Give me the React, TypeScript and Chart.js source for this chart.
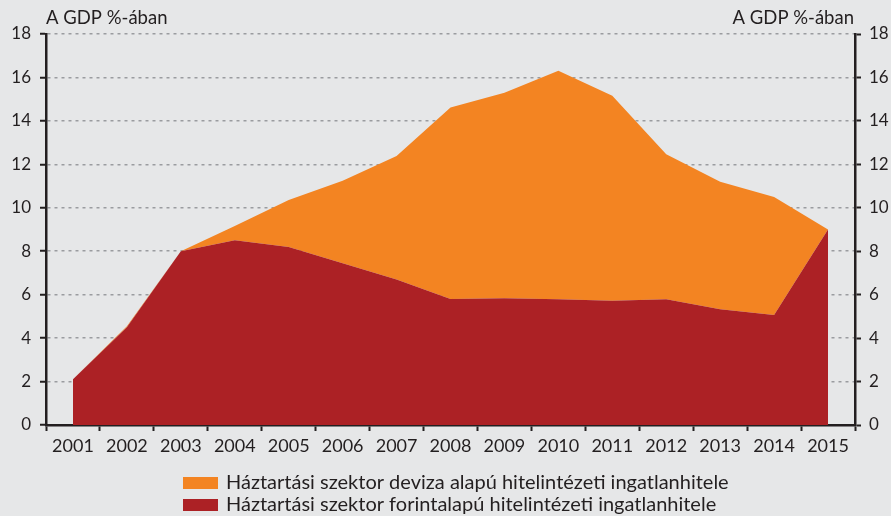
import React, { useEffect, useRef } from 'react';
import { Chart, registerables } from 'chart.js';

Chart.register(...registerables);

const years = ['2001', '2002', '2003', '2004', '2005', '2006', '2007', '2008', '2009', '2010', '2011', '2012', '2013', '2014', '2015'];
// Háztartási szektor forintalapú hitelintézeti ingatlanhitele (% of GDP)
const forintLoans = [2.1, 4.5, 8.0, 8.5, 8.2, 7.45, 6.7, 5.8, 5.83, 5.79, 5.72, 5.79, 5.33, 5.06, 9.0];
// Háztartási szektor deviza alapú hitelintézeti ingatlanhitele (% of GDP), stacked on top
const fxLoans = [0, 0.05, 0, 0.66, 2.16, 3.8, 5.68, 8.82, 9.47, 10.52, 9.44, 6.67, 5.87, 5.44, 0];
const yTicks = [0, 2, 4, 6, 8, 10, 12, 14, 16, 18];

const fxLabel = 'Háztartási szektor deviza alapú hitelintézeti ingatlanhitele';
const forintLabel = 'Háztartási szektor forintalapú hitelintézeti ingatlanhitele';
const axisTitle = 'A GDP %-ában';

const BG = '#e6e7e8';
const ORANGE = '#f38422';
const RED = '#ac2125';
const TEXT = '#231f20';
const GRID = '#9a9c9f';
const FONT = 'Lato';

const decorPlugin = {
  id: 'decor',
  beforeDraw(chart: any) {
    const { ctx, width, height } = chart;
    ctx.save();
    ctx.fillStyle = BG;
    ctx.fillRect(0, 0, width, height);
    ctx.restore();
  },
  afterDraw(chart: any) {
    const { ctx, chartArea } = chart;
    ctx.save();
    ctx.fillStyle = TEXT;
    ctx.font = `18.5px ${FONT}`;
    ctx.textBaseline = 'alphabetic';
    ctx.textAlign = 'left';
    ctx.fillText(axisTitle, chartArea.left, 24);
    ctx.textAlign = 'right';
    ctx.fillText(axisTitle, chartArea.right - 1, 24);

    const items = [1, 0].map((i) => chart.data.datasets[i]);
    ctx.font = `20px ${FONT}`;
    ctx.textAlign = 'left';
    ctx.textBaseline = 'middle';
    items.forEach((ds: any, i: number) => {
      const y = 477 + i * 22;
      ctx.fillStyle = ds.backgroundColor;
      ctx.fillRect(183, y, 35, 12);
      ctx.fillStyle = TEXT;
      ctx.fillText(ds.label, 226, y + 6);
    });
    ctx.restore();
  },
};

export default function App() {
  const ref = useRef<HTMLCanvasElement | null>(null);

  useEffect(() => {
    document.body.style.margin = '0';
    document.body.style.background = BG;
    const canvas = ref.current;
    if (!canvas) return;
    const chart = new Chart(canvas, {
      type: 'line',
      data: {
        labels: years,
        datasets: [
          {
            label: forintLabel,
            data: forintLoans,
            backgroundColor: RED,
            borderColor: RED,
            borderWidth: 0,
            pointRadius: 0,
            fill: 'origin',
            tension: 0,
          },
          {
            label: fxLabel,
            data: fxLoans,
            backgroundColor: ORANGE,
            borderColor: ORANGE,
            borderWidth: 0,
            pointRadius: 0,
            fill: '-1',
            tension: 0,
          },
        ],
      },
      options: {
        animation: false,
        responsive: false,
        layout: { padding: { top: 34, left: 0, right: 0, bottom: 61 } },
        plugins: {
          legend: { display: false },
          tooltip: { enabled: false },
        },
        scales: {
          x: {
            type: 'category',
            offset: true,
            z: 2,
            grid: {
              display: true,
              offset: true,
              drawOnChartArea: false,
              drawTicks: true,
              tickLength: 6,
              tickColor: TEXT,
              tickWidth: 2,
            },
            border: { display: true, color: TEXT, width: 2.5 },
            ticks: {
              color: TEXT,
              font: { family: FONT, size: 18 },
              padding: 4,
              maxRotation: 0,
              autoSkip: false,
            },
            afterFit: (s: any) => {
              s.height = 30;
            },
          },
          y: {
            position: 'left',
            stacked: true,
            min: 0,
            max: 18,
            z: 1,
            afterBuildTicks: (s: any) => {
              s.ticks = yTicks.map((v) => ({ value: v }));
            },
            grid: {
              color: GRID,
              lineWidth: 1.5,
              tickLength: 6,
              tickColor: TEXT,
              tickWidth: 2,
              tickBorderDash: [],
            },
            border: { display: true, color: TEXT, width: 2.5, dash: [3, 4] },
            ticks: {
              color: TEXT,
              font: { family: FONT, size: 17 },
              padding: 9,
            },
            afterFit: (s: any) => {
              s.width = 46;
            },
          },
          y2: {
            position: 'right',
            min: 0,
            max: 18,
            z: 1,
            afterBuildTicks: (s: any) => {
              s.ticks = yTicks.map((v) => ({ value: v }));
            },
            grid: {
              drawOnChartArea: false,
              tickLength: 6,
              tickColor: TEXT,
              tickWidth: 2,
            },
            border: { display: true, color: TEXT, width: 2.5 },
            ticks: {
              color: TEXT,
              font: { family: FONT, size: 17 },
              padding: 8,
            },
            afterFit: (s: any) => {
              s.width = 36;
            },
          },
        },
      },
      plugins: [decorPlugin],
    });
    return () => chart.destroy();
  }, []);

  return (
    <div style={{ width: 891, height: 516, background: BG }}>
      <canvas ref={ref} width={891} height={516} style={{ display: 'block' }} />
    </div>
  );
}
